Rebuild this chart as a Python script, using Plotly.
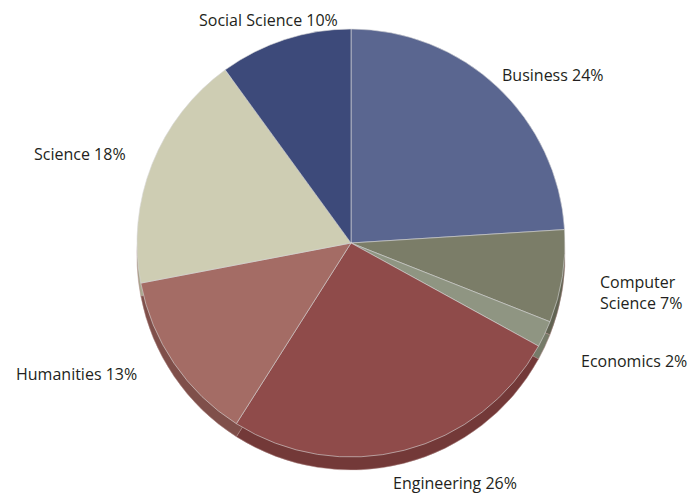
import plotly.graph_objects as go

categories = ["Business", "Computer Science", "Economics", "Engineering",
              "Humanities", "Science", "Social Science"]
values = [24, 7, 2, 26, 13, 18, 10]
label_text = ["Business 24%", "Computer<br>Science 7%", "Economics 2%",
              "Engineering 26%", "Humanities 13%", "Science 18%",
              "Social Science 10%"]

colors = ["#5a6690", "#7b7d68", "#8f9582", "#8f4b4a", "#a46c65", "#cecdb3", "#3d4a7a"]
side_colors = ["#47527a", "#616352", "#767b69", "#733938", "#7f4f4a", "#a9a88f", "#2f3a62"]

# label anchor positions in pixels (x, y from top) and alignment
label_pos = [(553, 75, "center"), (598, 292, "left"), (634, 361, "center"),
             (455, 483, "center"), (76, 374, "center"), (80, 154, "center"),
             (268, 20, "center")]

W, H = 699, 495
cx, cy, r = 351, 243, 214
depth = 13

def dom(cx, cy, r):
    return dict(x=[(cx - r) / W, (cx + r) / W],
                y=[(H - cy - r) / H, (H - cy + r) / H])

fig = go.Figure()
fig.add_trace(go.Pie(labels=categories, values=values, sort=False,
                     direction="clockwise", rotation=0,
                     marker=dict(colors=side_colors, line=dict(color="#b08a88", width=0.5)),
                     textinfo="none", hoverinfo="skip", showlegend=False,
                     domain=dom(cx, cy + depth, r)))
fig.add_trace(go.Pie(labels=categories, values=values, sort=False,
                     direction="clockwise", rotation=0,
                     marker=dict(colors=colors, line=dict(color="#d8d8d8", width=0.6)),
                     textinfo="none", showlegend=False,
                     domain=dom(cx, cy, r)))

for txt, (x, y, al) in zip(label_text, label_pos):
    fig.add_annotation(text=txt, x=x / W, y=1 - y / H, xref="paper", yref="paper",
                       xanchor="left" if al == "left" else "center", yanchor="middle",
                       align=al, showarrow=False,
                       font=dict(family="Open Sans", size=16, color="#231f20"))

fig.update_layout(width=W, height=H, margin=dict(l=0, r=0, t=0, b=0),
                  paper_bgcolor="white", plot_bgcolor="white")
fig.write_html("out.html")
